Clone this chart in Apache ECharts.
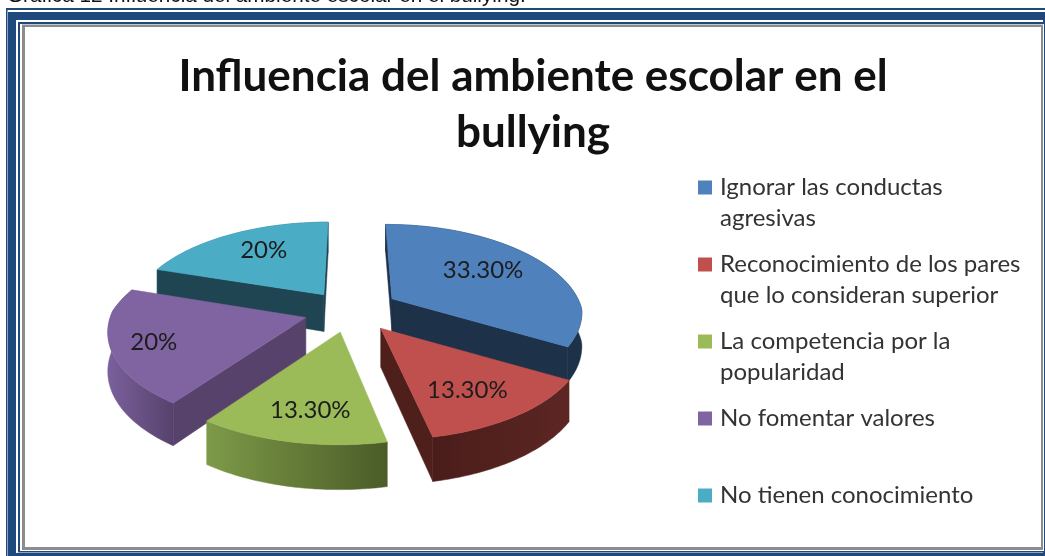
<!DOCTYPE html>
<html><head><meta charset="utf-8">
<style>html,body{margin:0;padding:0;background:#fff}#c{width:1045px;height:556px}</style>
<script src="https://cdn.jsdelivr.net/npm/echarts@6/dist/echarts.min.js"></script>
</head><body><div id="c"></div>
<script>
const caption = 'Grafica 12 Influencia del ambiente escolar en el bullying.';
const chartTitle = 'Influencia del ambiente escolar en el\nbullying';
const categories = ['Ignorar las conductas\nagresivas','Reconocimiento de los pares\nque lo consideran superior','La competencia por la\npopularidad','No fomentar valores','No tienen conocimiento'];
const values = [33.3, 13.3, 13.3, 20, 20];
const valueLabels = ['33.30%','13.30%','13.30%','20%','20%'];

const topColors = ['#4F81BD','#C0504D','#9BBB59','#8064A2','#4BACC6'];
const faceColors = ['#1D3148','#4F1F1C','#4A5A28','#57426C','#1F4552'];
const rimColors = [['#1D3148','#1D3148'],['#4A1D1A','#5C2623'],['#7D9A48','#4B5C28'],['#7A609C','#57426C'],['#3F8FA5','#2A6A7C']];
const drawOrder = [3,6,5,4,2];
const labelRadii = [.55,.7,.68,.76,.6];
const labelNudge = [[9,-5],[-5,3],[2,7],[-5,2],[-2,-6]];
const sliceShift = [[3,-2],[3,0],[0,0],[0,0],[0,0]];
const sliceWidth = [.965,1,1,.985,.985];
const sliceDepth = [.88,1,1,1,1];

// perspective projection of the tilted pie plane
const P = {cx:350, cy:311, A:197, B:93, kFront:.125, kBack:.2, ex:.2335, ey:.224, h:38};
const sum = values.reduce((a,b)=>a+b,0);
let acc = 0;
const starts = values.map(v=>{const s=acc;acc+=v;return s;});

function project(X,Y,drop){
  const s = 1/(1-(Y<0?P.kBack:P.kFront)*Y);
  return [P.cx+P.A*X*s, P.cy+P.B*Y*s+drop*P.h*s];
}
function renderSlice(params, api){
  const v = api.value(0), st = api.value(1), i = params.seriesIndex;
  const t1 = st/sum*2*Math.PI, t2 = (st+v)/sum*2*Math.PI, tm=(t1+t2)/2;
  const ox = P.ex*Math.sin(tm), oy = -P.ey*Math.cos(tm);
  const depth = sliceDepth[i], w = sliceWidth[i], sh = sliceShift[i];
  const pt = (r,t,d)=>{
    const q=project(ox+r*w*Math.sin(t), oy-r*Math.cos(t), d?depth:0);
    return [q[0]+sh[0],q[1]+sh[1]];
  };
  const steps = 48, rimT=[], rimB=[];
  for(let n=0;n<=steps;n++){
    const t=t1+(t2-t1)*n/steps;
    rimT.push(pt(1,t,false)); rimB.push(pt(1,t,true));
  }
  const a=pt(0,0,false), b=pt(0,0,true);
  const children=[];
  const poly=(points,fill)=>children.push({type:'polygon',shape:{points},style:{fill,stroke:fill,lineWidth:.5}});
  const rc=rimColors[i];
  poly(rimT.concat(rimB.slice().reverse()),{type:'linear',x:0,y:0,x2:1,y2:0,global:false,colorStops:[{offset:0,color:rc[0]},{offset:1,color:rc[1]}]});
  const f1=rimT[0], f2=rimT[steps];
  if(f1[0]<a[0]) poly([a,f1,rimB[0],b],faceColors[i]);
  if(f2[0]>a[0]) poly([a,f2,rimB[steps],b],faceColors[i]);
  poly([a].concat(rimT),topColors[i]);
  const lp=pt(labelRadii[i],tm,false), ln=labelNudge[i];
  children.push({type:'text',style:{text:valueLabels[i],x:lp[0]+ln[0],y:lp[1]+ln[1],align:'center',verticalAlign:'middle',fill:'#1c1c1c',font:'24px Lato'}});
  return {type:'group',children};
}
const frame = [
 [6,8,1045,556,'#1F497D'],[7.5,10,1045,556,'#fff'],[8,12,1045,556,'#1F497D'],
 [16,20,1043,553,'#fff'],[18,22,1045,552.5,'#1F497D'],[20,24,1044,551,'#fff'],
 [22,24.5,1043,550,'#8C8C8C'],[25,27,1041,547,'#fff']
];
const chart = echarts.init(document.getElementById('c'),null,{renderer:'canvas'});
chart.setOption({
  animation:false,
  backgroundColor:'#fff',
  title:[
    {text:caption,left:7,top:-14,padding:0,textStyle:{fontFamily:'Liberation Sans',fontSize:20.7,fontWeight:'normal',color:'#111'}},
    {text:chartTitle,left:533,top:49,padding:0,textAlign:'center',textStyle:{fontFamily:'Lato',fontSize:44,fontWeight:'bold',color:'#111',lineHeight:56,align:'center'}}
  ],
  graphic:frame.map(f=>({type:'rect',z:0,silent:true,shape:{x:f[0],y:f[1],width:f[2]-f[0],height:f[3]-f[1]},style:{fill:f[4]}})),
  legend:{
    orient:'vertical',left:693,top:136,itemWidth:14,itemHeight:14,itemGap:-16,selectedMode:false,icon:'rect',
    data:categories,
    formatter:n=>'\n'+n+(n.indexOf('\n')<0?'\n ':''),
    textStyle:{fontFamily:'Lato',fontSize:24,color:'#333',lineHeight:31,padding:[0,0,0,3]}
  },
  series:categories.map((c,i)=>({
    type:'custom',name:c,coordinateSystem:'none',z:drawOrder[i],
    itemStyle:{color:topColors[i]},
    renderItem:renderSlice,
    data:[[values[i],starts[i]]]
  }))
});
</script></body></html>
